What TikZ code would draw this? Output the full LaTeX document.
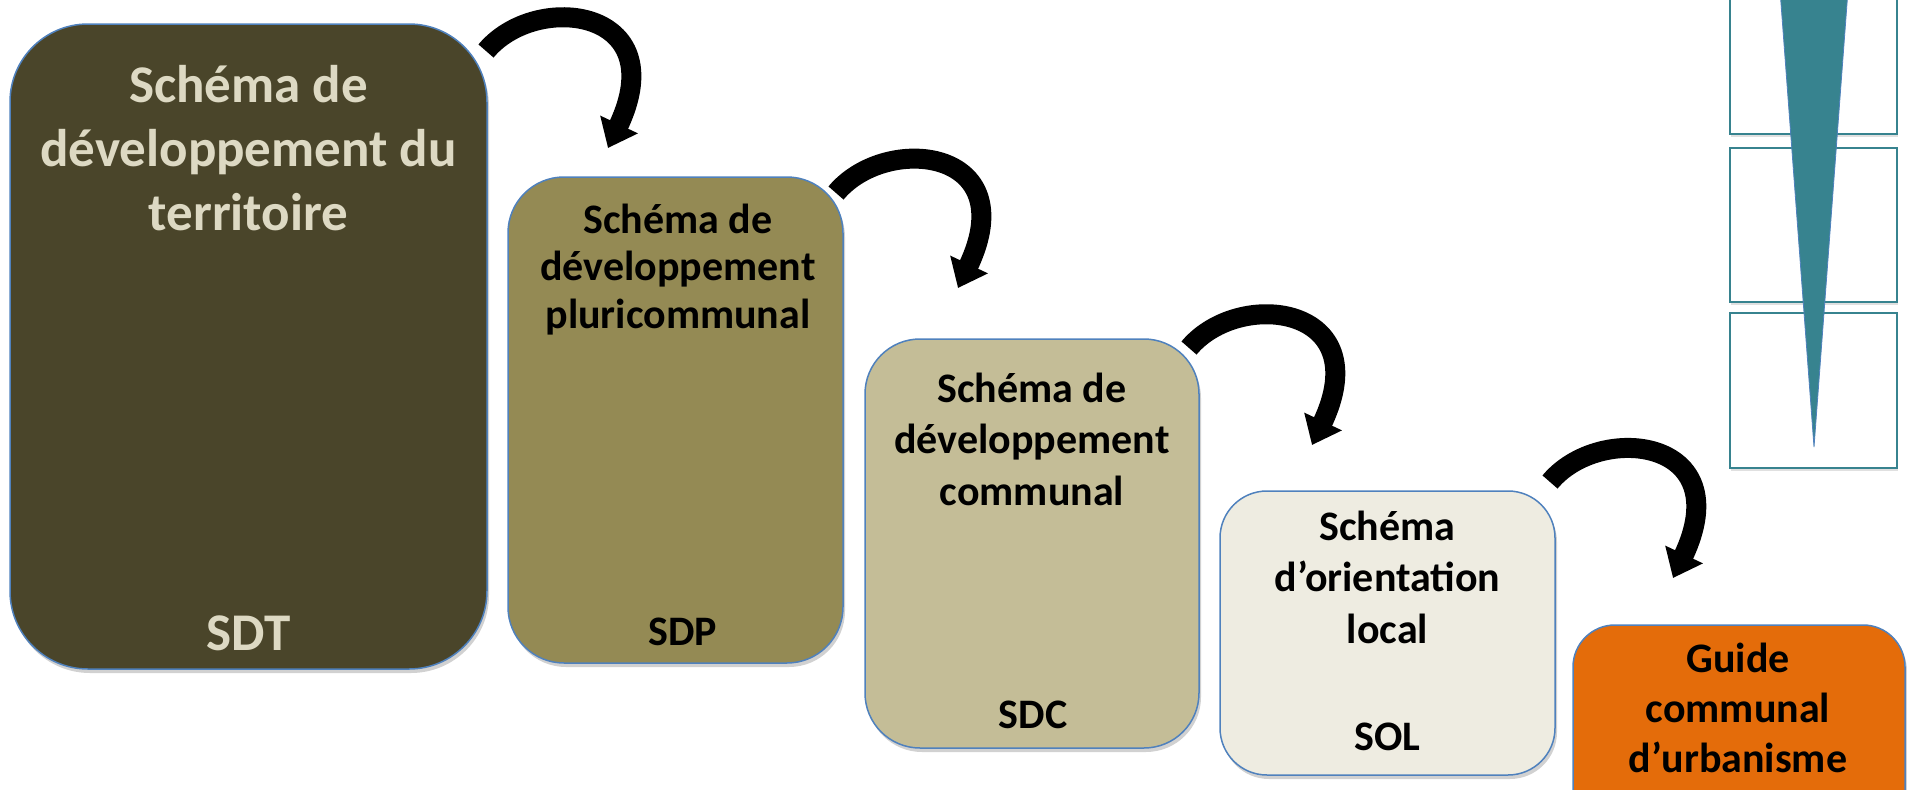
\documentclass[tikz,border=0pt]{standalone}
\usepackage{fontspec}
\setmainfont{Carlito}
\usetikzlibrary{arrows.meta, shadows}
\newcommand{\pxunit}{1pt}
\definecolor{sdtfill}{HTML}{4A452A}
\definecolor{sdttext}{HTML}{DDD9C3}
\definecolor{sdpfill}{HTML}{948A54}
\definecolor{sdcfill}{HTML}{C4BD97}
\definecolor{solfill}{HTML}{EEECE1}
\definecolor{gcufill}{HTML}{E46C0A}
\definecolor{boxline}{HTML}{4F81BD}
\definecolor{levelteal}{HTML}{37838F}

\begin{document}
\begin{tikzpicture}[x=\pxunit, y=-\pxunit]
\useasboundingbox (0,0) rectangle (1907,790);
\tikzstyle{every node}=[inner sep=0pt, align=center, font=\bfseries]
\tikzstyle{stagebox}=[draw=boxline,
			line width=1.5*\pxunit,
			rectangle,
			drop shadow={shadow xshift=2*\pxunit, shadow yshift=-4*\pxunit, opacity=0.3, fill=black!60}
			]
\tikzstyle{levelframe}=[draw=levelteal,
			line width=2*\pxunit,
			rectangle,
			fill=white,
			minimum width=167*\pxunit,
			drop shadow={shadow xshift=1*\pxunit, shadow yshift=-3*\pxunit, opacity=0.2, fill=black!60}
			]
\tikzstyle{bendarrow}=[line width=20*\pxunit, -{Triangle[width=40*\pxunit, length=26*\pxunit]}]


\node[stagebox, fill=sdtfill, rounded corners=78*\pxunit, minimum width=477*\pxunit, minimum height=645*\pxunit] (sdt) at (248.5,346.5) {};

\node[stagebox, fill=sdpfill, rounded corners=56*\pxunit, minimum width=335*\pxunit, minimum height=486*\pxunit] (sdp) at (675.5,420) {};

\node[stagebox, fill=sdcfill, rounded corners=55*\pxunit, minimum width=334*\pxunit, minimum height=409*\pxunit] (sdc) at (1032,543.5) {};

\node[stagebox, fill=solfill, rounded corners=47*\pxunit, minimum width=335*\pxunit, minimum height=284*\pxunit] (sol) at (1387.5,633) {};

\node[stagebox, fill=gcufill, rounded corners=42*\pxunit, minimum width=332*\pxunit, minimum height=245*\pxunit] (gcu) at (1739,747.5) {};


\node[anchor=base, text=sdttext, font=\bfseries\fontsize{53}{64}\selectfont] (sdttitle) at (248.5,230) {Schéma de\\développement du\\territoire};

\node[anchor=base, text=sdttext, font=\bfseries\fontsize{53}{64}\selectfont] (sdtabbr) at (248.5,650) {SDT};

\node[anchor=base, font=\bfseries\fontsize{42}{47.5}\selectfont] (sdptitle) at (678,328) {Schéma de\\développement\\pluricommunal};

\node[anchor=base, font=\bfseries\fontsize{42}{48}\selectfont] (sdpabbr) at (683,645) {SDP};

\node[anchor=base, font=\bfseries\fontsize{42}{51.5}\selectfont] (sdctitle) at (1032,505) {Schéma de\\développement\\communal};

\node[anchor=base, font=\bfseries\fontsize{42}{51.5}\selectfont] (sdcabbr) at (1033,728) {SDC};

\node[anchor=base, font=\bfseries\fontsize{42}{51.5}\selectfont] (soltitle) at (1387.5,643) {Schéma\\d’orientation\\local};

\node[anchor=base, font=\bfseries\fontsize{42}{51.5}\selectfont] (solabbr) at (1387.5,750) {SOL};

\node[anchor=base, font=\bfseries\fontsize{42}{50}\selectfont] (gcutitle) at (1738,772) {Guide\\communal\\d’urbanisme};


\node[levelframe, minimum height=154*\pxunit] (lvla) at (1813.5,57) {};

\node[levelframe, minimum height=154*\pxunit] (lvlb) at (1813.5,225) {};

\node[levelframe, minimum height=155*\pxunit] (lvlc) at (1813.5,390.5) {};

\filldraw[fill=levelteal, draw=boxline, line width=0.8*\pxunit] (1780,-10) -- (1848,-10) -- (1814,447) -- cycle;


\coordinate (a1s) at (486,51);
\coordinate (a1e) at (608,148);
\coordinate (a2s) at (836,193);
\coordinate (a2e) at (958,288);
\coordinate (a3s) at (1189,348);
\coordinate (a3e) at (1312,445);
\coordinate (a4s) at (1550,482);
\coordinate (a4e) at (1673,578);

\draw[bendarrow] (a1s) .. controls +(50,-60) and +(66,-140) .. (a1e);

\draw[bendarrow] (a2s) .. controls +(50,-60) and +(66,-140) .. (a2e);

\draw[bendarrow] (a3s) .. controls +(50,-60) and +(66,-140) .. (a3e);

\draw[bendarrow] (a4s) .. controls +(50,-60) and +(66,-140) .. (a4e);

\end{tikzpicture}
\end{document}
